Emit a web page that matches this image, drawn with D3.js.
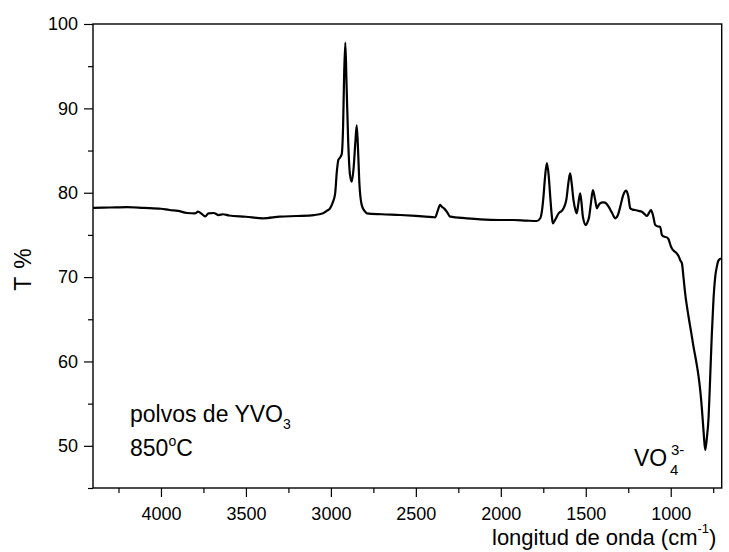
<!DOCTYPE html>
<html>
<head>
<meta charset="utf-8">
<script src="https://cdn.jsdelivr.net/npm/d3@7/dist/d3.min.js"></script>
<style>
  html, body { margin: 0; padding: 0; background: #fff; }
  svg { display: block; font-family: "Liberation Sans", Arial, sans-serif; }
</style>
</head>
<body>
<svg id="chart" width="729" height="552"></svg>
<script>
// Wavenumber (cm^-1)
const wavenumber = [
  4400, 4300, 4200, 4100, 4000, 3950, 3900, 3847, 3800, 3782, 3760, 3740, 3720, 3690, 3660, 3635, 3600, 3500, 3400, 3300,
  3200, 3100, 3046, 3020, 3005, 2990, 2975, 2965, 2956, 2945, 2936, 2928, 2922, 2915, 2908, 2898, 2888, 2877, 2866, 2856,
  2848, 2840, 2832, 2818, 2800, 2789, 2700, 2592, 2500, 2400, 2386, 2373, 2357, 2345, 2334, 2318, 2298, 2200, 2121, 2004,
  1925, 1850, 1788, 1768, 1755, 1749, 1740, 1729, 1718, 1709, 1700, 1694, 1680, 1660, 1640, 1625, 1615, 1600, 1592, 1584,
  1572, 1560, 1553, 1545, 1533, 1525, 1517, 1499, 1488, 1480, 1470, 1458, 1446, 1434, 1425, 1415, 1400, 1386, 1366, 1345,
  1327, 1310, 1297, 1280, 1262, 1250, 1238, 1225, 1209, 1190, 1170, 1155, 1140, 1128, 1116, 1104, 1091, 1075, 1062, 1052,
  1040, 1023, 1013, 1000, 993, 975, 964, 954, 944, 934, 925, 915, 895, 880, 866, 850, 836, 826, 816, 806,
  797, 788, 777, 768, 758, 748, 738, 728, 718, 703
];
// Transmittance (%)
const transmittance = [
  78.2, 78.25, 78.3, 78.2, 78.1, 77.95, 77.85, 77.6, 77.55, 77.75, 77.5, 77.2, 77.55, 77.6, 77.35, 77.45, 77.3, 77.15, 76.97, 77.16,
  77.24, 77.35, 77.56, 77.9, 78.15, 78.8, 79.9, 82.5, 83.9, 84.2, 84.6, 88.0, 94.0, 97.8, 93.0, 86.0, 82.2, 81.3, 83.0, 86.0,
  88.0, 85.0, 81.0, 78.5, 77.8, 77.56, 77.45, 77.36, 77.25, 77.1, 77.08, 77.75, 78.55, 78.3, 78.15, 77.75, 77.16, 76.97, 76.85, 76.77,
  76.77, 76.7, 76.65, 76.97, 78.3, 79.5, 81.8, 83.5, 82.0, 79.5, 77.3, 76.36, 76.8, 77.56, 77.87, 78.4, 79.1, 81.5, 82.3, 81.3,
  79.1, 77.9, 77.56, 78.5, 79.93, 78.8, 77.16, 76.17, 76.6, 77.16, 78.7, 80.3, 79.3, 78.15, 78.5, 78.75, 78.85, 78.82, 78.35, 77.6,
  76.97, 77.4, 78.35, 79.7, 80.24, 79.6, 78.15, 78.0, 77.95, 77.85, 77.75, 77.5, 77.24, 77.6, 77.95, 77.3, 76.17, 76.0, 75.97, 74.99,
  74.8, 74.71, 74.5, 73.7, 73.4, 73.0, 72.8, 72.5, 72.0, 71.63, 70.0, 68.07, 65.3, 63.5, 61.75, 60.0, 58.2, 56.5, 54.24, 51.5,
  49.5, 50.8, 53.45, 58.0, 63.3, 67.5, 70.05, 71.3, 72.0, 72.2
];
const xMajorTicks = [4000, 3500, 3000, 2500, 2000, 1500, 1000];
const xMinorTicks = [4250, 3750, 3250, 2750, 2250, 1750, 1250, 750];
const yMajorTicks = [50, 60, 70, 80, 90, 100];
const yMinorTicks = [45, 55, 65, 75, 85, 95];

const svg = d3.select("#chart");
const L = 93, R = 721.7, T = 24, B = 488;

const x = d3.scaleLinear().domain([4400, 700]).range([L, R]);
const y = d3.scaleLinear().domain([45, 100]).range([B, T]);

const data = wavenumber.map((w, i) => ({ w, t: transmittance[i] }));

// frame
svg.append("rect")
  .attr("x", L).attr("y", T).attr("width", R - L).attr("height", B - T)
  .attr("fill", "none").attr("stroke", "#000").attr("stroke-width", 1.4);

function styleAxis(g) {
  g.select(".domain").remove();
  g.selectAll(".tick line").attr("stroke", "#000").attr("stroke-width", 1.2);
  g.selectAll(".tick text").attr("fill", "#000")
    .style("font-family", '"Liberation Sans", Arial, sans-serif')
    .style("font-size", "18px");
}

svg.append("g").attr("transform", `translate(0,${B})`)
  .call(d3.axisBottom(x).tickValues(xMajorTicks).tickSize(9).tickPadding(10).tickFormat(d3.format("d")))
  .call(styleAxis);
svg.append("g").attr("transform", `translate(0,${B})`)
  .call(d3.axisBottom(x).tickValues(xMinorTicks).tickSize(5).tickFormat(""))
  .call(styleAxis);
svg.append("g").attr("transform", `translate(${L},0)`)
  .call(d3.axisLeft(y).tickValues(yMajorTicks).tickSize(9).tickPadding(6).tickFormat(d3.format("d")))
  .call(styleAxis);
svg.append("g").attr("transform", `translate(${L},0)`)
  .call(d3.axisLeft(y).tickValues(yMinorTicks).tickSize(5).tickFormat(""))
  .call(styleAxis);

// spectrum line
svg.append("path")
  .datum(data)
  .attr("fill", "none")
  .attr("stroke", "#000")
  .attr("stroke-width", 2.2)
  .attr("stroke-linejoin", "round")
  .attr("d", d3.line().x(d => x(d.w)).y(d => y(d.t)).curve(d3.curveMonotoneX));

// axis titles
svg.append("text")
  .attr("transform", "translate(31,269.5) rotate(-90)")
  .attr("text-anchor", "middle")
  .style("font-size", "23px")
  .style("word-spacing", "2px")
  .text("T %");

const xt = svg.append("text").attr("x", 492).attr("y", 545).style("font-size", "22px");
xt.append("tspan").text("longitud de onda (cm");
xt.append("tspan").attr("dy", -12).style("font-size", "13px").text("-1");
xt.append("tspan").attr("dy", 12).text(")");

// annotations
const t1 = svg.append("text").attr("x", 130).attr("y", 422).style("font-size", "23px");
t1.append("tspan").text("polvos de YVO");
t1.append("tspan").attr("dy", 7).style("font-size", "14px").text("3");

const t2 = svg.append("text").attr("x", 130).attr("y", 455.5).style("font-size", "23px");
t2.append("tspan").text("850");
t2.append("tspan").attr("dy", -10).style("font-size", "14px").text("o");
t2.append("tspan").attr("dy", 10).text("C");

const t3 = svg.append("text").attr("x", 634).attr("y", 465.5).style("font-size", "23px");
t3.append("tspan").text("VO");
t3.append("tspan").attr("x", 670).attr("y", 475).style("font-size", "15px").text("4");
t3.append("tspan").attr("x", 671).attr("y", 455).style("font-size", "15px").text("3-");
</script>
</body>
</html>
